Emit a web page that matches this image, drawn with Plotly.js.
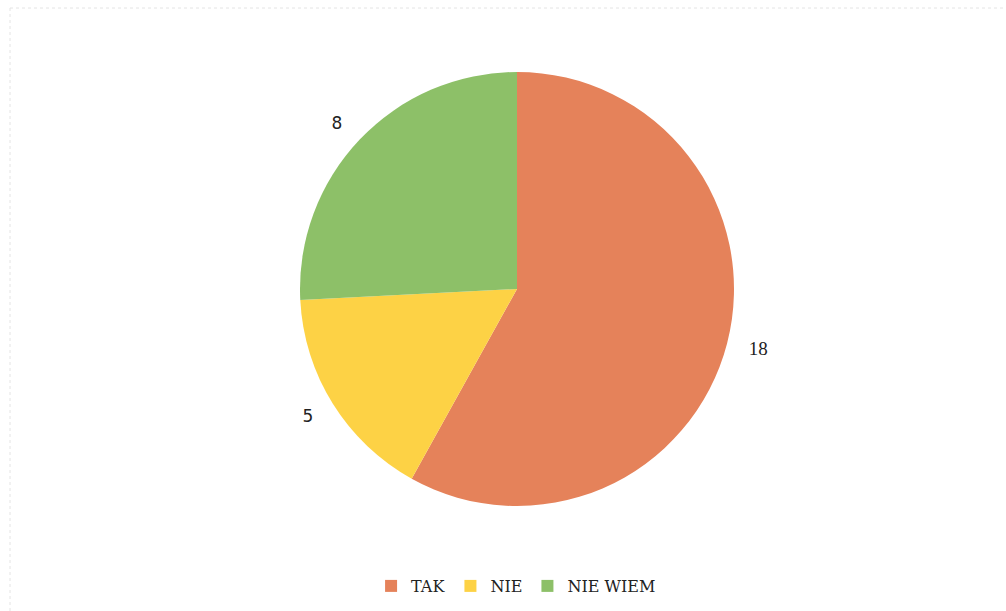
<!DOCTYPE html>
<html>
<head>
<meta charset="utf-8">
<script src="https://cdn.plot.ly/plotly-3.0.1.min.js"></script>
<style>html,body{margin:0;padding:0;background:#fff;}#chart{width:1006px;height:611px;}</style>
</head>
<body>
<div id="chart"></div>
<script>
var categories = ["TAK", "NIE", "NIE WIEM"];
var values = [18, 5, 8];
var sliceColors = ["#E5825A", "#FDD245", "#8DC068"];
var labelFonts = ["Liberation Serif", "DejaVu Sans", "DejaVu Sans"];

var W = 1006, H = 611;
var cx = 517, cy = 289, r = 217, rText = 234;

function dom(rad) {
  return {x: [(cx - rad) / W, (cx + rad) / W], y: [1 - (cy + rad) / H, 1 - (cy - rad) / H]};
}

var pieTrace = {
  type: "pie",
  labels: categories,
  values: values,
  sort: false,
  direction: "clockwise",
  rotation: 0,
  marker: {colors: sliceColors, line: {width: 0}},
  textinfo: "none",
  hoverinfo: "label+value",
  domain: dom(r),
  automargin: false
};

var labelTrace = {
  type: "pie",
  labels: categories,
  values: values,
  sort: false,
  direction: "clockwise",
  rotation: 0,
  marker: {colors: ["rgba(0,0,0,0)", "rgba(0,0,0,0)", "rgba(0,0,0,0)"], line: {width: 0}},
  textinfo: "value",
  textposition: "outside",
  textfont: {family: labelFonts, size: [19, 17, 17], color: "#222"},
  hoverinfo: "skip",
  showlegend: false,
  domain: dom(rText),
  automargin: false
};

var layout = {
  width: W, height: H,
  margin: {l: 0, r: 0, t: 0, b: 0},
  paper_bgcolor: "#fff",
  showlegend: true,
  legend: {
    orientation: "h", x: 0.513, xanchor: "center", y: 1 - 586 / H, yanchor: "middle",
    font: {family: "DejaVu Serif", size: 16, color: "#222"},
    itemwidth: 30, tracegroupgap: 0
  },
  shapes: [
    {type: "line", xref: "paper", yref: "paper", x0: 10 / W, x1: 10 / W, y0: 0, y1: 1 - 8 / H, line: {color: "#e4e4e4", width: 1, dash: "dot"}},
    {type: "line", xref: "paper", yref: "paper", x0: 10 / W, x1: 1, y0: 1 - 8 / H, y1: 1 - 8 / H, line: {color: "#e4e4e4", width: 1, dash: "dot"}}
  ]
};

Plotly.newPlot("chart", [pieTrace, labelTrace], layout, {displayModeBar: false, staticPlot: true});
</script>
</body>
</html>
